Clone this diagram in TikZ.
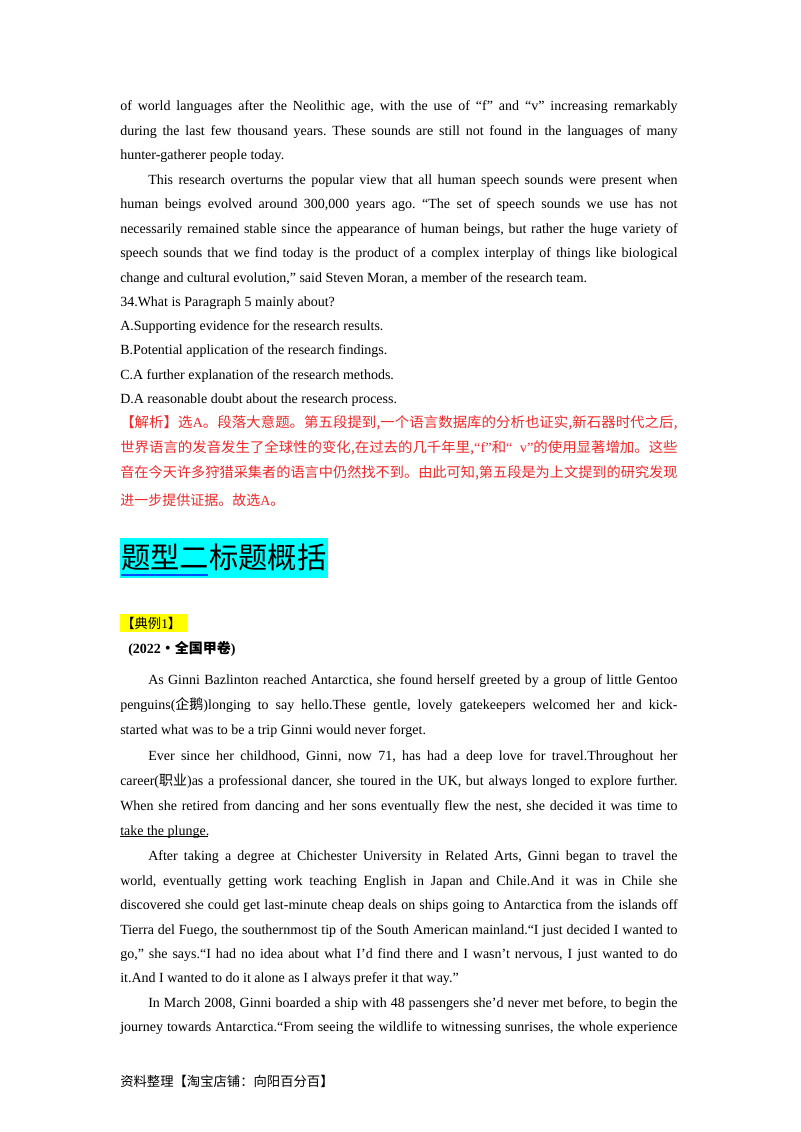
\documentclass[tikz,border=0pt]{standalone}
\usepackage{fontspec}
\usepackage{graphicx}
\setmainfont{Liberation Serif}
\newfontfamily\cjk{Noto Sans CJK SC}
\frenchspacing
\definecolor{redtxt}{RGB}{240,40,40}
\definecolor{cyanbg}{RGB}{0,255,255}
\definecolor{yel}{RGB}{255,255,0}
\newcommand\jl[2]{\node[txt] at (120,#1+5) {\hbox to 418pt{#2}};}
\newcommand\ji[2]{\node[txt] at (148,#1+5) {\hbox to 397pt{#2}};}
\newcommand\pl[3]{\node[txt] at (#1,#2+5) {#3};}
\begin{document}
\begin{tikzpicture}[x=0.75pt,y=-0.75pt,
  txt/.style={anchor=base west,inner sep=0pt,font=\fontsize{10.5}{12}\selectfont\frenchspacing},
  red/.style={txt,text=redtxt}]
\useasboundingbox[fill=white] (0,0) rectangle (800,1132);
\jl{105}{of world languages after the Neolithic age, with the use of “f” and “v” increasing remarkably}
\jl{130}{during the last few thousand years. These sounds are still not found in the languages of many}
\pl{120}{154}{hunter-gatherer people today.}
\ji{179}{This research overturns the popular view that all human speech sounds were present when}
\jl{203}{human beings evolved around 300,000 years ago. “The set of speech sounds we use has not}
\jl{228}{necessarily remained stable since the appearance of human beings, but rather the huge variety of}
\jl{252}{speech sounds that we find today is the product of a complex interplay of things like biological}
\pl{120}{277}{change and cultural evolution,” said Steven Moran, a member of the research team.}
\pl{120}{301}{34.What is Paragraph 5 mainly about?}
\pl{120}{325}{A.Supporting evidence for the research results.}
\pl{120}{349}{B.Potential application of the research findings.}
\pl{120}{374}{C.A further explanation of the research methods.}
\pl{120}{398}{D.A reasonable doubt about the research process.}
\node[red] (r1) at (120,427) {\resizebox{418pt}{\height}{\cjk 【解析】选{\rmfamily A}。段落大意题。第五段提到,一个语言数据库的分析也证实,新石器时代之后,}};
\node[red] (r2) at (120,452) {\resizebox{418pt}{\height}{\cjk 世界语言的发音发生了全球性的变化,在过去的几千年里,{\rmfamily“f”}和{\rmfamily “ \ v”}的使用显著增加。这些}};
\node[red] (r3) at (120,477) {\resizebox{418pt}{\height}{\cjk 音在今天许多狩猎采集者的语言中仍然找不到。由此可知,第五段是为上文提到的研究发现}};
\node[red] (r4) at (120,505) {\cjk 进一步提供证据。故选{\rmfamily A}。};
\fill[cyanbg] (120,538) rectangle (328,578);
\node[txt,font=\cjk\fontsize{22}{24}\selectfont] (h) at (121,568) {题型二标题概括};
\draw[blue!70!cyan,line width=1pt] (121,575) -- (208,575);
\fill[yel] (120,614) rectangle (187,632);
\node[txt,font=\cjk\fontsize{10}{12}\selectfont] (d) at (121,628) {【典例{\rmfamily 1}】};
\node[txt,font=\bfseries\fontsize{10.5}{12}\selectfont] (y) at (128,653) {(2022{\cjk ·全国甲卷})};
\ji{679}{As Ginni Bazlinton reached Antarctica, she found herself greeted by a group of little Gentoo}
\jl{704}{penguins({\cjk 企鹅})longing to say hello.These gentle, lovely gatekeepers welcomed her and kick-}
\pl{120}{729}{started what was to be a trip Ginni would never forget.}
\ji{755}{Ever since her childhood, Ginni, now 71, has had a deep love for travel.Throughout her}
\jl{780}{career({\cjk 职业})as a professional dancer, she toured in the UK, but always longed to explore further.}
\jl{805}{When she retired from dancing and her sons eventually flew the nest, she decided it was time to}
\pl{120}{830}{take the plunge.}
\draw[line width=0.5pt] (120,836) -- (208,836);
\ji{855}{After taking a degree at Chichester University in Related Arts, Ginni began to travel the}
\jl{880}{world, eventually getting work teaching English in Japan and Chile.And it was in Chile she}
\jl{904}{discovered she could get last-minute cheap deals on ships going to Antarctica from the islands off}
\jl{929}{Tierra del Fuego, the southernmost tip of the South American mainland.“I just decided I wanted to}
\jl{953}{go,” she says.“I had no idea about what I'd find there and I wasn't nervous, I just wanted to do}
\pl{120}{977}{it.And I wanted to do it alone as I always prefer it that way.”}
\ji{1002}{In March 2008, Ginni boarded a ship with 48 passengers she'd never met before, to begin the}
\jl{1026}{journey towards Antarctica.“From seeing the wildlife to witnessing sunrises, the whole experience}
\node[txt,font=\cjk\fontsize{10}{12}\selectfont] (f) at (120,1086) {资料整理【淘宝店铺：向阳百分百】};
\end{tikzpicture}
\end{document}
